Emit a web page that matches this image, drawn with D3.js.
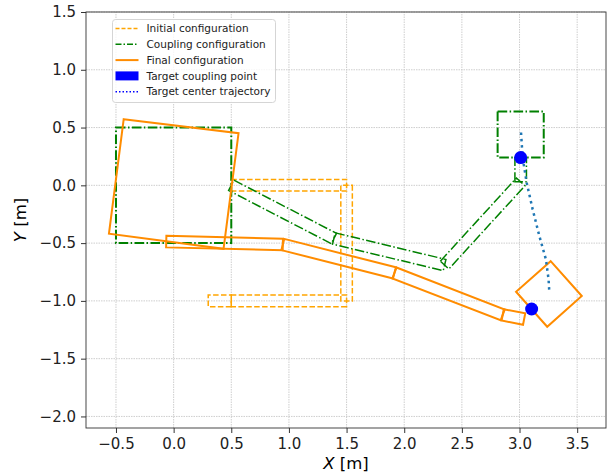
<!DOCTYPE html>
<html>
<head>
<meta charset="utf-8">
<script src="https://d3js.org/d3.v7.min.js"></script>
<style>
  body { margin: 0; background: #fff; }
  text { font-family: "DejaVu Sans", sans-serif; }
</style>
</head>
<body>
<div id="chart"></div>
<script>
// joints of each link chain, in metres
var initJoints = [[0.5, 0.0], [1.5, 0.0], [1.5, -1.0], [0.5, -1.0], [0.3, -1.0]];
var couplingSquare = [[-0.5, 0.5], [0.5, 0.5], [0.5, -0.5], [-0.5, -0.5]];
var couplingJoints = [[0.5, 0.0], [1.39, -0.46], [2.35, -0.69], [3.01, 0.03], [3.01, 0.24]];
var couplingTarget = [[2.81, 0.64], [3.21, 0.64], [3.21, 0.24], [2.81, 0.24]];
var finalSquare = [[-0.433, 0.572], [0.563, 0.451], [0.433, -0.549], [-0.561, -0.419]];
var finalJoints = [[-0.064, -0.487], [0.947, -0.512], [1.915, -0.758], [2.854, -1.121], [3.04, -1.157]];
var finalTarget = [[3.27, -0.656], [3.54, -0.958], [3.24, -1.224], [2.97, -0.921]];
var trajectory = [[3.013, 0.457], [3.027, 0.24], [3.062, 0.023], [3.114, -0.208], [3.172, -0.439], [3.229, -0.641], [3.252, -0.815], [3.258, -0.916]];
var targetPoints = [[3.01, 0.24], [3.105, -1.07]];
var xTicks = [-0.5, 0.0, 0.5, 1.0, 1.5, 2.0, 2.5, 3.0, 3.5];
var yTicks = [1.5, 1.0, 0.5, 0.0, -0.5, -1.0, -1.5, -2.0];
var legendLabels = ["Initial configuration", "Coupling configuration", "Final configuration", "Target coupling point", "Target center trajectory"];

var linkWidth = 0.1;

var W = 614, H = 475;
var margin = {top: 12, right: 8, bottom: 47, left: 86};

var svg = d3.select("#chart").append("svg")
  .attr("width", W)
  .attr("height", H);

var x = d3.scaleLinear().domain([-0.76, 3.75]).range([margin.left, W - margin.right]);
var y = d3.scaleLinear().domain([-2.1, 1.5]).range([H - margin.bottom, margin.top]);

var fmt = function(d) { return d3.format(".1f")(d).replace("-", "\u2212"); };

// grid
var grid = svg.append("g");
grid.selectAll(".gx").data(xTicks).join("line")
  .attr("x1", d => x(d)).attr("x2", d => x(d))
  .attr("y1", y.range()[0]).attr("y2", y.range()[1])
  .attr("stroke", "#c8c8c8").attr("stroke-width", 0.9).attr("stroke-dasharray", "1.5,1");
grid.selectAll(".gy").data(yTicks).join("line")
  .attr("y1", d => y(d)).attr("y2", d => y(d))
  .attr("x1", x.range()[0]).attr("x2", x.range()[1])
  .attr("stroke", "#c8c8c8").attr("stroke-width", 0.9).attr("stroke-dasharray", "1.5,1");

// rectangle around the segment p-q
function linkRect(p, q) {
  var dx = q[0] - p[0], dy = q[1] - p[1];
  var len = Math.sqrt(dx * dx + dy * dy);
  var nx = -dy / len * linkWidth / 2, ny = dx / len * linkWidth / 2;
  return [[p[0] + nx, p[1] + ny], [q[0] + nx, q[1] + ny], [q[0] - nx, q[1] - ny], [p[0] - nx, p[1] - ny]];
}
function links(joints) {
  return d3.pairs(joints).map(pq => linkRect(pq[0], pq[1]));
}

var poly = d3.line().x(d => x(d[0])).y(d => y(d[1]));
function closed(pts) { return poly(pts) + "Z"; }

var plot = svg.append("g");

// initial configuration
plot.selectAll(".init").data(links(initJoints)).join("path")
  .attr("d", closed)
  .attr("fill", "none").attr("stroke", "orange").attr("stroke-width", 1.5)
  .attr("stroke-dasharray", "5.5,2.4");

// coupling configuration
plot.selectAll(".coupSq").data([couplingSquare, couplingTarget]).join("path")
  .attr("d", closed)
  .attr("fill", "none").attr("stroke", "green").attr("stroke-width", 2)
  .attr("stroke-dasharray", "9.6,2.4,1.5,2.4");
plot.selectAll(".coup").data(links(couplingJoints)).join("path")
  .attr("d", closed)
  .attr("fill", "none").attr("stroke", "green").attr("stroke-width", 1.5)
  .attr("stroke-dasharray", "9.6,2.4,1.5,2.4");

// final configuration
plot.selectAll(".finSq").data([finalSquare, finalTarget]).join("path")
  .attr("d", closed)
  .attr("fill", "none").attr("stroke", "darkorange").attr("stroke-width", 2)
  .attr("stroke-linejoin", "miter");
plot.selectAll(".fin").data(links(finalJoints)).join("path")
  .attr("d", closed)
  .attr("fill", "none").attr("stroke", "darkorange").attr("stroke-width", 2);

// target center trajectory
plot.append("path")
  .attr("d", poly(trajectory))
  .attr("fill", "none").attr("stroke", "#1f77b4").attr("stroke-width", 2.5)
  .attr("stroke-dasharray", "2.5,3.8");

// target coupling points
plot.selectAll(".pt").data(targetPoints).join("circle")
  .attr("cx", d => x(d[0])).attr("cy", d => y(d[1])).attr("r", 6.5)
  .attr("fill", "blue");

// axes
var xAxis = svg.append("g")
  .attr("transform", `translate(0,${y.range()[0]})`)
  .call(d3.axisBottom(x).tickValues(xTicks).tickFormat(fmt).tickSize(5).tickSizeOuter(0).tickPadding(5));
var yAxis = svg.append("g")
  .attr("transform", `translate(${x.range()[0]},0)`)
  .call(d3.axisLeft(y).tickValues(yTicks).tickFormat(fmt).tickSize(5).tickSizeOuter(0).tickPadding(5));
[xAxis, yAxis].forEach(a => {
  a.selectAll("text").style("font-size", "15px").attr("fill", "#222");
  a.selectAll("line").attr("stroke", "#333");
  a.select(".domain").remove();
});

// frame
svg.append("rect")
  .attr("x", x.range()[0]).attr("y", y.range()[1])
  .attr("width", x.range()[1] - x.range()[0]).attr("height", y.range()[0] - y.range()[1])
  .attr("fill", "none").attr("stroke", "#333").attr("stroke-width", 0.9);

// axis labels
var xl = svg.append("text")
  .attr("x", (x.range()[0] + x.range()[1]) / 2).attr("y", 469)
  .attr("text-anchor", "middle").style("font-size", "16.5px");
xl.append("tspan").style("font-style", "italic").text("X");
xl.append("tspan").text(" [m]");

var yl = svg.append("text")
  .attr("transform", `translate(26,${(y.range()[0] + y.range()[1]) / 2}) rotate(-90)`)
  .attr("text-anchor", "middle").style("font-size", "16.5px");
yl.append("tspan").style("font-style", "italic").text("Y");
yl.append("tspan").text(" [m]");

// legend
var legend = svg.append("g").attr("transform", "translate(112.5,19.5)");
legend.append("rect")
  .attr("width", 163).attr("height", 83).attr("rx", 3)
  .attr("fill", "white").attr("fill-opacity", 0.8)
  .attr("stroke", "#d5d5d5").attr("stroke-width", 1);

var styles = [
  {stroke: "orange", dash: "4,2", w: 1.5},
  {stroke: "green", dash: "6,2,1.5,2", w: 1.5},
  {stroke: "darkorange", dash: null, w: 2},
  null,
  {stroke: "blue", dash: "1.5,2", w: 1.5}
];

var items = legend.selectAll(".item").data(legendLabels).join("g")
  .attr("transform", (d, i) => `translate(0,${9 + i * 15.8})`);

items.each(function(d, i) {
  var g = d3.select(this);
  var s = styles[i];
  if (s) {
    g.append("line").attr("x1", 3).attr("x2", 26).attr("y1", 0).attr("y2", 0)
      .attr("stroke", s.stroke).attr("stroke-width", s.w)
      .attr("stroke-dasharray", s.dash);
  } else {
    g.append("rect").attr("x", 3).attr("y", -4.5).attr("width", 23).attr("height", 9).attr("fill", "blue");
  }
  g.append("text").attr("x", 34).attr("y", 0).attr("dy", "0.35em")
    .style("font-size", "10.5px").attr("fill", "#222").text(d);
});
</script>
</body>
</html>
